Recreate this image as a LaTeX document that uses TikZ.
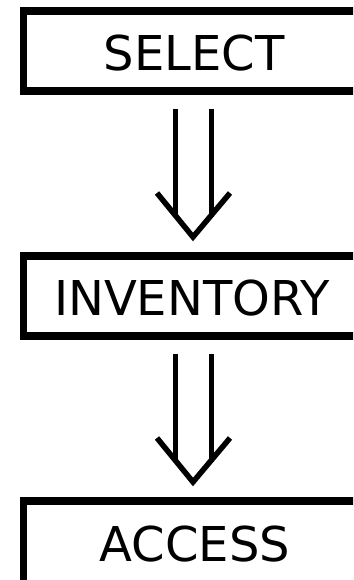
\documentclass[tikz,border=0pt]{standalone}
\usepackage{fontspec}
\setmainfont{DejaVu Sans}
\usetikzlibrary{calc}
\begin{document}
\begin{tikzpicture}[x=1bp,y=1bp,
  box/.style={draw, line width=7.5bp, minimum width=376.5bp, minimum height=80bp,
              inner sep=0pt, outer sep=0pt, anchor=north west},
  lbl/.style={font=\fontsize{48bp}{56bp}\selectfont, inner sep=0pt},
  shaft/.style={line width=5bp},
  head/.style={line width=5.5bp, line join=miter}]
\useasboundingbox (0,0) rectangle (353,-580);
\clip (0,0) rectangle (353,-580);
\node[box] (sel) at (23.5,-11) {};
\node[box] (inv) at (23.5,-256) {};
\node[box, minimum height=84bp] (acc) at (23.5,-501) {};
\node[lbl] (selt) at (194,-53) {SELECT};
\node[lbl] (invt) at (192,-298.5) {INVENTORY};
\node[lbl] (acct) at (195,-544.5) {ACCESS};
\coordinate (ax) at (193,0);
\foreach \a/\b in {sel/inv, inv/acc}{
  \draw[shaft] ($(ax |- \a.south)+(-18,-18)$) -- ($(ax |- \b.north)+(-18,39)$);
  \draw[shaft] ($(ax |- \a.south)+(18,-18)$) -- ($(ax |- \b.north)+(18,39)$);
  \draw[head] ($(ax |- \b.north)+(-36,63)$) -- ($(ax |- \b.north)+(0,19)$) -- ($(ax |- \b.north)+(37,63)$);
}
\end{tikzpicture}
\end{document}
